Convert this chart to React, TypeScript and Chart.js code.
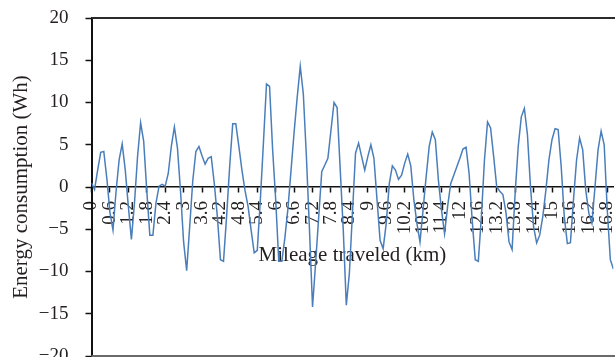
import { useEffect, useRef } from "react";
import { Chart, registerables } from "chart.js";

Chart.register(...registerables);

// Energy consumption sampled every 0.1 km of travel
const SAMPLE_STEP_KM = 0.1;
const energyWh = [
  0.5, -0.3, 2.0, 4.1, 4.2, 1.0, -3.0, -5.1, -0.5, 3.2,
  5.1, 2.0, -2.3, -6.2, -1.9, 3.6, 7.6, 5.4, -0.4, -5.7,
  -5.7, -1.9, 0.1, 0.3, 0.1, 1.6, 4.8, 7.1, 4.6, -0.5,
  -6.5, -9.9, -4.6, 0.8, 4.2, 4.8, 3.7, 2.7, 3.4, 3.6,
  0.4, -3.5, -8.6, -8.8, -3.5, 2.4, 7.5, 7.5, 4.8, 2.0,
  -0.4, -2.3, -5.1, -7.8, -7.5, -1.5, 5.2, 12.2, 11.9, 4.4,
  -1.5, -8.8, -8.8, -6.0, -2.5, 2.0, 6.5, 10.6, 14.3, 11.0,
  3.6, -5.0, -14.2, -9.0, -3.6, 1.8, 2.6, 3.4, 6.7, 10.0,
  9.4, 2.2, -5.0, -14.0, -10.2, -3.1, 4.0, 5.2, 3.6, 2.0,
  3.6, 5.0, 3.4, -1.5, -6.3, -7.3, -4.3, 0.4, 2.5, 2.0,
  0.9, 1.4, 2.8, 3.9, 2.5, -1.5, -4.3, -6.5, -2.7, 1.2,
  4.8, 6.5, 5.6, 0.8, -2.7, -5.5, -2.3, 0.4, 1.4, 2.4,
  3.4, 4.5, 4.7, 1.6, -3.9, -8.6, -8.8, -3.5, 3.2, 7.7,
  7.0, 3.6, 0.0, -0.5, -0.9, -3.0, -6.5, -7.4, -0.7, 4.8,
  8.3, 9.3, 6.2, 0.0, -4.7, -6.6, -5.7, -3.5, -0.4, 3.2,
  5.6, 6.9, 6.8, 2.4, -3.5, -6.7, -6.6, -1.5, 3.2, 5.8,
  4.4, -0.4, -3.1, -4.3, 0.0, 4.4, 6.6, 5.0, -2.7, -8.6,
  -9.7,
];
const mileageKm = energyWh.map((_, i) => Math.round(i * SAMPLE_STEP_KM * 10) / 10);

const X_TICK_STEP_KM = 0.6;
const X_MAX_KM = 17.0;
const Y_MIN_WH = -20;
const Y_MAX_WH = 20;
const Y_TICK_STEP_WH = 5;

const X_TITLE = "Mileage traveled (km)";
const Y_TITLE = "Energy consumption (Wh)";

const SERIF = "'Liberation Serif', 'Times New Roman', serif";
const INK = "#231f20";
const LINE_BLUE = "#4a7ebb";

const formatKm = (v: number) => String(Number(v.toFixed(1)));
const formatWh = (v: number) => (v < 0 ? "\u2212" + Math.abs(v) : String(v));

// Plot-area frame: dark top edge and grey bottom edge
const plotFrame = {
  id: "plotFrame",
  beforeDatasetsDraw(chart: Chart) {
    const { ctx, chartArea } = chart;
    ctx.save();
    ctx.lineWidth = 2;
    ctx.strokeStyle = "#2b2b2b";
    ctx.beginPath();
    ctx.moveTo(chartArea.left, chartArea.top);
    ctx.lineTo(chart.width, chartArea.top);
    ctx.stroke();
    ctx.strokeStyle = "#6a6a6a";
    ctx.beginPath();
    ctx.moveTo(chartArea.left, chartArea.bottom);
    ctx.lineTo(chart.width, chartArea.bottom);
    ctx.stroke();
    ctx.restore();
  },
};

export default function App() {
  const canvasRef = useRef<HTMLCanvasElement | null>(null);

  useEffect(() => {
    const canvas = canvasRef.current;
    if (!canvas) return;
    const points = energyWh.map((wh, i) => ({ x: mileageKm[i], y: wh }));
    const chart = new Chart(canvas, {
      type: "line",
      data: {
        datasets: [
          {
            data: points,
            borderColor: LINE_BLUE,
            borderWidth: 1.5,
            pointRadius: 0,
            tension: 0,
            fill: false,
          },
        ],
      },
      plugins: [plotFrame],
      options: {
        animation: false,
        responsive: false,
        devicePixelRatio: 1,
        events: [],
        layout: { padding: { top: 18, bottom: 24, left: 0, right: 1.6 } },
        plugins: { legend: { display: false }, tooltip: { enabled: false } },
        scales: {
          x: {
            type: "linear",
            position: { y: 0 } as any,
            min: 0,
            max: X_MAX_KM,
            afterFit: (scale: any) => {
              scale.paddingLeft = 0;
              scale.paddingRight = 0;
            },
            border: { display: true, color: "#111", width: 1.5 },
            grid: {
              drawOnChartArea: false,
              drawTicks: true,
              tickLength: 5,
              tickWidth: 1.5,
              tickColor: "#111",
            },
            ticks: {
              stepSize: X_TICK_STEP_KM,
              autoSkip: false,
              includeBounds: false,
              minRotation: 90,
              maxRotation: 90,
              padding: 9,
              color: INK,
              font: { family: SERIF, size: 19 },
              callback: (v: any) => formatKm(Number(v)),
            },
            title: {
              display: true,
              text: X_TITLE,
              color: INK,
              font: { family: SERIF, size: 21 },
              padding: { top: 0, bottom: 0 },
            },
          },
          y: {
            type: "linear",
            position: "left",
            min: Y_MIN_WH,
            max: Y_MAX_WH,
            afterFit: (scale: any) => {
              scale.width = 91.5;
              scale.paddingTop = 0;
              scale.paddingBottom = 0;
            },
            border: { display: true, color: "#111", width: 2 },
            grid: {
              drawOnChartArea: false,
              drawTicks: true,
              tickLength: 6,
              tickWidth: 1.5,
              tickColor: "#111",
            },
            ticks: {
              stepSize: Y_TICK_STEP_WH,
              padding: 17,
              color: INK,
              font: { family: SERIF, size: 19 },
              callback: (v: any) => formatWh(Number(v)),
            },
            title: {
              display: true,
              text: Y_TITLE,
              color: INK,
              font: { family: SERIF, size: 21 },
              padding: { top: 9, bottom: 0 },
            },
          },
        },
      },
    });
    return () => chart.destroy();
  }, []);

  return (
    <div
      style={{
        position: "fixed",
        left: 0,
        top: 0,
        width: 615,
        height: 357,
        overflow: "hidden",
        background: "#fff",
      }}
    >
      <canvas ref={canvasRef} width={615} height={380} style={{ display: "block" }} />
    </div>
  );
}
